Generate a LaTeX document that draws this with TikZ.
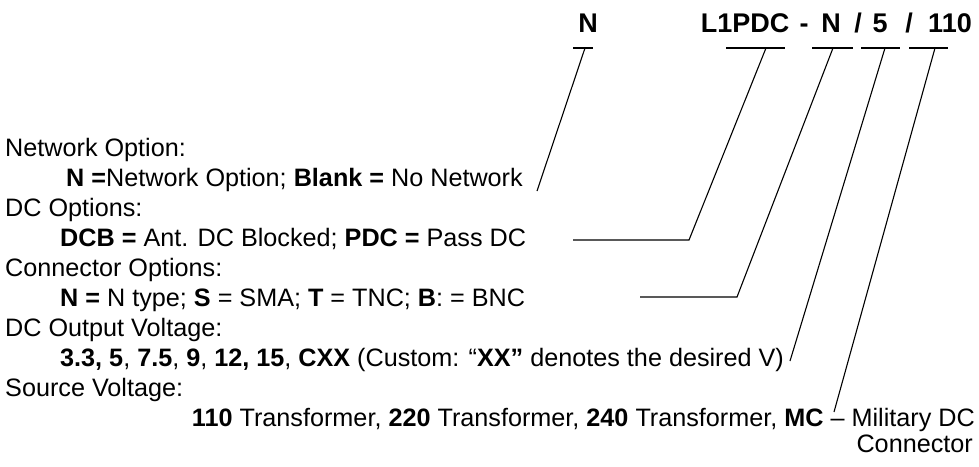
\documentclass[tikz,border=0pt]{standalone}
\usepackage{fontspec}
\setmainfont{Liberation Sans}
\usetikzlibrary{positioning}

\tikzset{
  texto/.style={anchor=base west, inner sep=0pt, font=\fontsize{25.2}{30}\selectfont},
  clave/.style={anchor=base, inner sep=0pt, font=\fontsize{27}{30}\selectfont\bfseries},
  raya/.style={line width=1.4pt},
  guia/.style={line width=1.1pt}
}

\begin{document}
\begin{tikzpicture}[x=1pt,y=-1pt]
%marco de la figura
\useasboundingbox (0,0) rectangle (979,466);

%Codigo del modelo
\node[clave] (kred) at (588,32) {N};
\node[clave] (kdc)  at (745,32) {L1PDC};
\node[clave] (kg)   at (804,32) {-};
\node[clave] (kcon) at (831,32) {N};
\node[clave] (kb1)  at (858,32) {/};
\node[clave] (kvo)  at (880,32) {5};
\node[clave] (kb2)  at (909,32) {/};
\node[clave] (kfu)  at (950,32) {110};

%Rayas bajo cada parte del codigo
\foreach \a/\b in {573/593, 726/785, 812/853, 861/900, 909/948}
	\draw[raya] (\a,48) -- (\b,48);

%Textos de las opciones
\node[texto] (tred) at (5,156) {Network Option:};
\node[texto] (ired) at (66,186) {\textbf{N =}Network Option; \textbf{Blank =} No Network};
\node[texto] (tdc)  at (5,216) {DC Options:};
\node[texto] (idc)  at (60,246) {\textbf{DCB =} Ant. DC Blocked; \textbf{PDC =} Pass DC};
\node[texto] (tcon) at (5,276) {Connector Options:};
\node[texto] (icon) at (60,306) {\textbf{N =} N type; \textbf{S} = SMA; \textbf{T} = TNC; \textbf{B}: = BNC};
\node[texto] (tvo)  at (5,336) {DC Output Voltage:};
\node[texto] (ivo)  at (60,366) {\textbf{3.3, 5}, \textbf{7.5}, \textbf{9}, \textbf{12, 15}, \textbf{CXX} (Custom: “\textbf{XX”} denotes the desired V)};
\node[texto] (tfu)  at (5,396) {Source Voltage:};
\node[texto, anchor=base east] (ifu)  at (975,426) {\textbf{110} Transformer, \textbf{220} Transformer, \textbf{240} Transformer, \textbf{MC} – Military DC};
\node[texto, anchor=base east] (ifu2) at (973,452) {Connector};

%Puntos de las lineas guia
\coordinate (sred) at (585,48);
\coordinate (ered) at (537,191);
\coordinate (sdc)  at (766,48);
\coordinate (bdc)  at (689,240);
\coordinate (edc)  at (573,240);
\coordinate (scon) at (833,48);
\coordinate (bcon) at (737,297);
\coordinate (econ) at (640,297);
\coordinate (svo)  at (885,48);
\coordinate (evo)  at (790,361);
\coordinate (sfu)  at (935,48);
\coordinate (efu)  at (834,412);

%Lineas guia
\draw[guia] (sred) -- (ered);
\draw[guia] (sdc) -- (bdc) -- (edc);
\draw[guia] (scon) -- (bcon) -- (econ);
\draw[guia] (svo) -- (evo);
\draw[guia] (sfu) -- (efu);
\end{tikzpicture}
\end{document}
